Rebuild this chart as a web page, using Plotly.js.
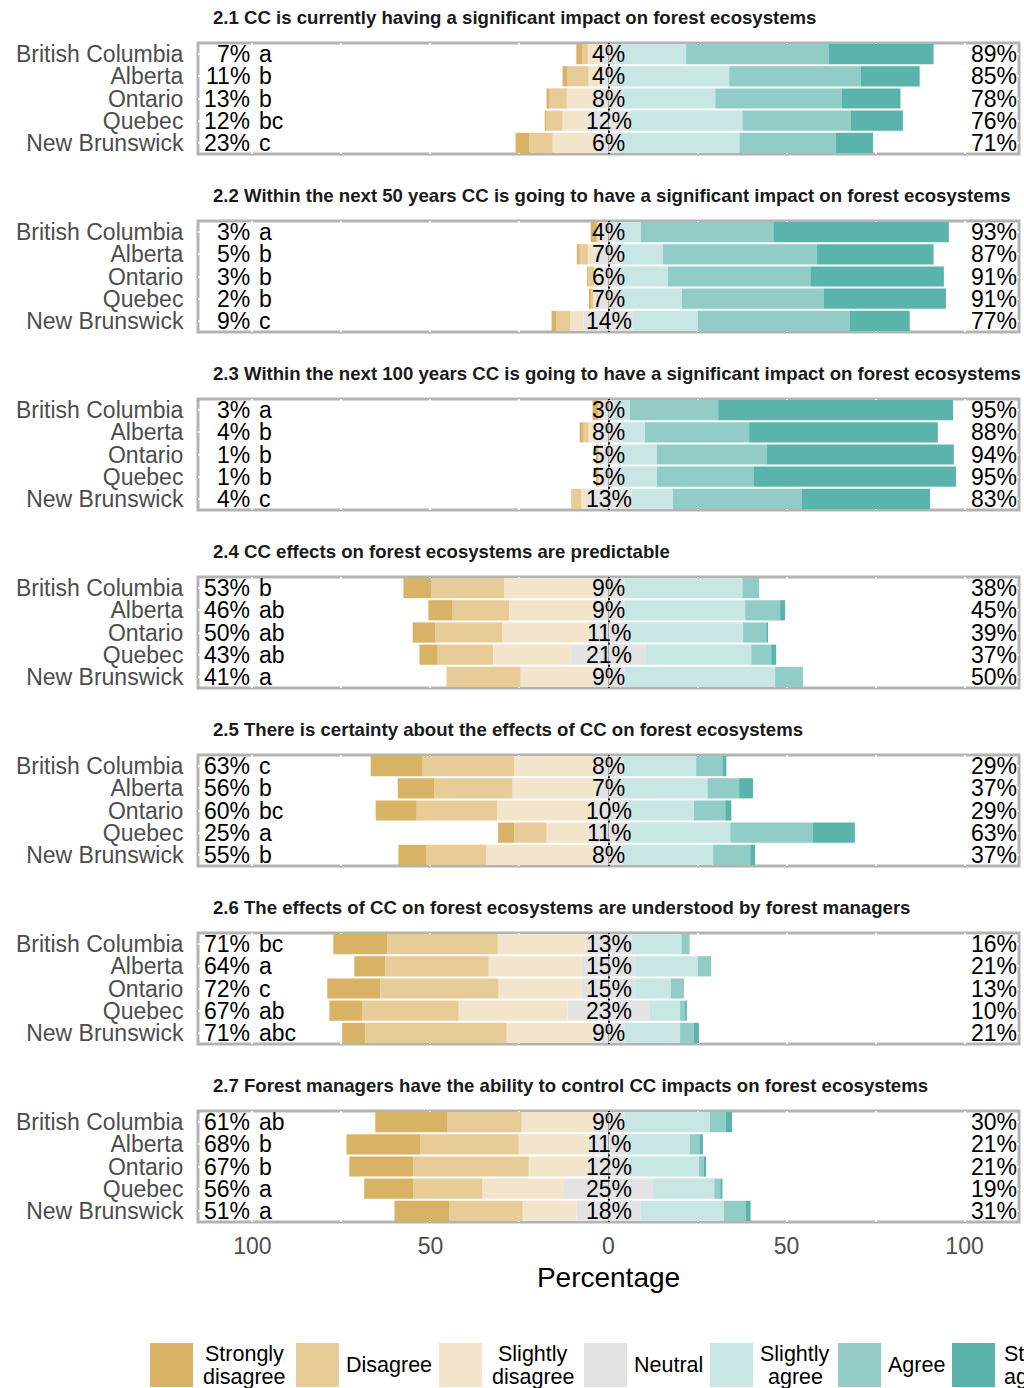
<!DOCTYPE html>
<html><head><meta charset="utf-8">
<script src="https://cdn.plot.ly/plotly-3.0.1.min.js"></script>
<style>html,body{margin:0;padding:0;overflow:hidden;background:#fff}</style>
</head><body><div id="chart" style="width:1024px;height:1388px"></div>
<script>
// ---------------- data ----------------
const statements = [
  '2.1 CC is currently having a significant impact on forest ecosystems',
  '2.2 Within the next 50 years CC is going to have a significant impact on forest ecosystems',
  '2.3 Within the next 100 years CC is going to have a significant impact on forest ecosystems',
  '2.4 CC effects on forest ecosystems are predictable',
  '2.5 There is certainty about the effects of CC on forest ecosystems',
  '2.6 The effects of CC on forest ecosystems are understood by forest managers',
  '2.7 Forest managers have the ability to control CC impacts on forest ecosystems'
];
const provinces = ['British Columbia', 'Alberta', 'Ontario', 'Quebec', 'New Brunswick'];
const categories = ['Strongly disagree', 'Disagree', 'Slightly disagree', 'Neutral', 'Slightly agree', 'Agree', 'Strongly agree'];
const legendLines = [['Strongly', 'disagree'], ['Disagree'], ['Slightly', 'disagree'], ['Neutral'], ['Slightly', 'agree'], ['Agree'], ['Strongly', 'agree']];

const stronglyDisagree = [
  [1.75, 1.4, 0.7, 0.5, 3.9],
  [1.7, 0.8, 0.3, 0.7, 1.4],
  [1.5, 0.9, 0.5, 0.5, 0],
  [7.9, 6.8, 6.4, 5.1, 0],
  [14.6, 10.3, 11.5, 4.5, 7.9],
  [15.2, 8.7, 14.9, 9.3, 6.5],
  [20.3, 20.8, 18.0, 13.8, 15.4]
];
const disagree = [
  [1.5, 5.9, 5.0, 4.5, 6.5],
  [0.3, 2.3, 1.7, 0.5, 3.9],
  [1.0, 1.6, 0.3, 0.3, 2.9],
  [20.4, 15.9, 18.8, 15.6, 20.8],
  [25.7, 21.9, 22.7, 9.1, 16.8],
  [31.0, 29.0, 33.2, 27.0, 39.7],
  [20.8, 27.6, 32.4, 19.4, 20.6]
];
const slightlyDisagree = [
  [3.8, 3.6, 7.7, 6.9, 12.7],
  [1.0, 2.3, 1.0, 0.8, 3.7],
  [0.5, 1.6, 0.2, 0.2, 1.1],
  [24.8, 23.4, 24.3, 21.9, 20.2],
  [22.5, 23.5, 26.2, 11.9, 30.3],
  [24.6, 26.2, 23.4, 30.6, 24.1],
  [19.9, 19.7, 16.4, 22.9, 15.1]
];
const neutral = [
  [4, 4, 8, 12, 6],
  [4, 7, 6, 7, 14],
  [3, 8, 5, 5, 13],
  [9, 9, 11, 21, 9],
  [8, 7, 10, 11, 8],
  [13, 15, 15, 23, 9],
  [9, 11, 12, 25, 18]
];
const slightlyAgree = [
  [19.8, 31.9, 26.0, 31.6, 33.8],
  [7.1, 11.8, 13.7, 17.1, 18.1],
  [4.5, 6.2, 11.1, 11.1, 11.6],
  [33.1, 33.9, 32.3, 29.6, 42.3],
  [20.6, 24.3, 19.0, 28.7, 25.4],
  [14.0, 17.6, 10.0, 8.6, 15.6],
  [24.0, 17.4, 19.4, 17.2, 23.4]
];
const agree = [
  [40.0, 36.9, 35.5, 30.4, 27.0],
  [37.2, 43.2, 40.0, 39.8, 42.6],
  [24.8, 29.3, 30.8, 27.1, 36.1],
  [4.7, 9.8, 6.5, 5.6, 7.8],
  [7.4, 8.9, 8.8, 23.2, 10.4],
  [2.3, 3.7, 3.7, 1.4, 3.9],
  [4.5, 2.8, 1.4, 1.7, 6.1]
];
const stronglyAgree = [
  [29.5, 16.6, 16.5, 14.7, 10.5],
  [49.3, 32.8, 37.5, 34.4, 16.9],
  [66.0, 53.0, 52.6, 56.9, 36.1],
  [0, 1.4, 0.5, 1.4, 0],
  [1.1, 3.9, 1.7, 11.8, 1.4],
  [0, 0, 0, 0.5, 1.4],
  [1.7, 0.8, 0.6, 0.6, 1.4]
];
const leftPct = [
  [7, 11, 13, 12, 23],
  [3, 5, 3, 2, 9],
  [3, 4, 1, 1, 4],
  [53, 46, 50, 43, 41],
  [63, 56, 60, 25, 55],
  [71, 64, 72, 67, 71],
  [61, 68, 67, 56, 51]
];
const sigLetters = [
  ['a', 'b', 'b', 'bc', 'c'],
  ['a', 'b', 'b', 'b', 'c'],
  ['a', 'b', 'b', 'b', 'c'],
  ['b', 'ab', 'ab', 'ab', 'a'],
  ['c', 'b', 'bc', 'a', 'b'],
  ['bc', 'a', 'c', 'ab', 'abc'],
  ['ab', 'b', 'b', 'a', 'a']
];
const rightPct = [
  [89, 85, 78, 76, 71],
  [93, 87, 91, 91, 77],
  [95, 88, 94, 95, 83],
  [38, 45, 39, 37, 50],
  [29, 37, 29, 63, 37],
  [16, 21, 13, 10, 21],
  [30, 21, 21, 19, 31]
];
const tickVals = [-100, -75, -50, -25, 0, 25, 50, 75, 100];
const tickText = ['100', '', '50', '', '0', '', '50', '', '100'];

// ---------------- styles / layout constants ----------------
const colors = ['#d8b365', '#e7cc98', '#f3e5cb', '#e3e3e3', '#c8e6e4', '#91cdc6', '#5ab4ac'];
const FONT = '"Liberation Sans", Arial, Helvetica, sans-serif';
const W = 1024, H = 1388, L = 198, R = 5, T = 43, B = 166;
const plotW = W - L - R, plotH = H - T - B;
const pitch = 178, panelH = 111;
const XMAX = 115.3;
const legendBoxX = [150, 296, 439, 584, 710, 838, 952];

const traces = [];
const layout = {
  width: W, height: H,
  margin: {l: L, r: R, t: T, b: B, pad: 0},
  paper_bgcolor: '#ffffff', plot_bgcolor: 'rgba(0,0,0,0)',
  barmode: 'relative', bargap: 0.09,
  showlegend: false,
  font: {family: FONT, color: '#000'},
  shapes: [], annotations: []
};

for (let k = 0; k < statements.length; k++) {
  const s = k === 0 ? '' : String(k + 1);
  const xa = 'x' + s, ya = 'y' + s;
  const half = neutral[k].map(v => v / 2);
  const neg = a => a.map(v => -v);
  const series = [
    [neg(half), 3], [neg(slightlyDisagree[k]), 2], [neg(disagree[k]), 1], [neg(stronglyDisagree[k]), 0],
    [half, 3], [slightlyAgree[k], 4], [agree[k], 5], [stronglyAgree[k], 6]
  ];
  series.forEach(([vals, ci]) => {
    traces.push({
      type: 'bar', orientation: 'h', x: vals, y: provinces,
      xaxis: xa, yaxis: ya, name: categories[ci],
      marker: {color: colors[ci], line: {width: 0}},
      hoverinfo: 'skip'
    });
  });

  const topPx = T + k * pitch, botPx = topPx + panelH;
  const last = k === statements.length - 1;
  layout['xaxis' + s] = {
    domain: [0, 1], anchor: ya, range: [-XMAX, XMAX],
    tickmode: 'array', tickvals: tickVals, ticktext: tickText,
    showticklabels: last, ticks: last ? 'outside' : '', ticklen: 3, tickcolor: 'rgba(0,0,0,0)',
    tickfont: {size: 23, color: '#4d4d4d'},
    showgrid: true, gridcolor: '#ffffff', gridwidth: 2,
    zeroline: true, zerolinecolor: '#000000', zerolinewidth: 2,
    showline: false, fixedrange: true,
    title: last ? {text: 'Percentage', font: {size: 28, color: '#000'}, standoff: 9} : {text: ''}
  };
  layout['yaxis' + s] = {
    domain: [(H - B - botPx) / plotH, (H - B - topPx) / plotH], anchor: xa,
    type: 'category', categoryorder: 'array', categoryarray: provinces,
    tickmode: 'array', tickvals: provinces, ticktext: provinces,
    range: [4.5, -0.5],
    ticks: 'outside', ticklen: 9, tickcolor: 'rgba(0,0,0,0)',
    tickfont: {size: 23, color: '#4d4d4d'},
    showgrid: true, gridcolor: '#ffffff', gridwidth: 2,
    zeroline: false, showline: false, fixedrange: true
  };
  layout.shapes.push({
    type: 'rect', xref: 'paper', yref: ya + ' domain', x0: 0, x1: 1, y0: 0, y1: 1,
    line: {color: '#b3b3b3', width: 3}, fillcolor: 'rgba(0,0,0,0)', layer: 'below'
  });
  layout.annotations.push({
    xref: 'paper', yref: ya + ' domain', x: (211 - L) / plotW, y: 1, yshift: 26,
    xanchor: 'left', yanchor: 'middle', showarrow: false,
    text: '<b>' + statements[k] + '</b>', font: {size: 18.6, color: '#1a1a1a'}
  });
  provinces.forEach((p, i) => {
    const base = {xref: xa, yref: ya, y: p, yanchor: 'middle', showarrow: false, font: {size: 23, color: '#000'}};
    layout.annotations.push(Object.assign({}, base, {x: -100, xanchor: 'right', text: leftPct[k][i] + '%'}));
    layout.annotations.push(Object.assign({}, base, {x: -98.6, xanchor: 'left', text: sigLetters[k][i]}));
    layout.annotations.push(Object.assign({}, base, {x: 0, xanchor: 'center', text: neutral[k][i] + '%'}));
    layout.annotations.push(Object.assign({}, base, {x: XMAX, xanchor: 'right', text: rightPct[k][i] + '%'}));
  });
}

// ---------------- custom legend ----------------
const LEG_FONT = 21.5;
const px2x = p => (p - L) / plotW;
const py2y = p => (H - B - p) / plotH;
const boxW = 43, boxTop = 1343, boxBot = 1387, midY = 1365;
categories.forEach((c, i) => {
  const bx = legendBoxX[i];
  layout.shapes.push({
    type: 'rect', xref: 'paper', yref: 'paper',
    x0: px2x(bx), x1: px2x(bx + boxW), y0: py2y(boxBot), y1: py2y(boxTop),
    fillcolor: colors[i], line: {width: 0}, layer: 'above'
  });
  const lines = legendLines[i];
  const t0 = bx + boxW + 7;
  const isLast = i === categories.length - 1;
  const tCenter = isLast ? null : (t0 + legendBoxX[i + 1] - 8) / 2;
  lines.forEach((t, j) => {
    const off = lines.length === 1 ? 0 : (j === 0 ? -11.5 : 11.5);
    layout.annotations.push({
      xref: 'paper', yref: 'paper', x: px2x(isLast ? t0 : tCenter), y: py2y(midY + off),
      xanchor: isLast ? 'left' : 'center', yanchor: 'middle', showarrow: false,
      text: t, font: {size: LEG_FONT, color: '#000'}
    });
  });
});

Plotly.newPlot('chart', traces, layout, {staticPlot: true, displayModeBar: false});
</script>
</body></html>
